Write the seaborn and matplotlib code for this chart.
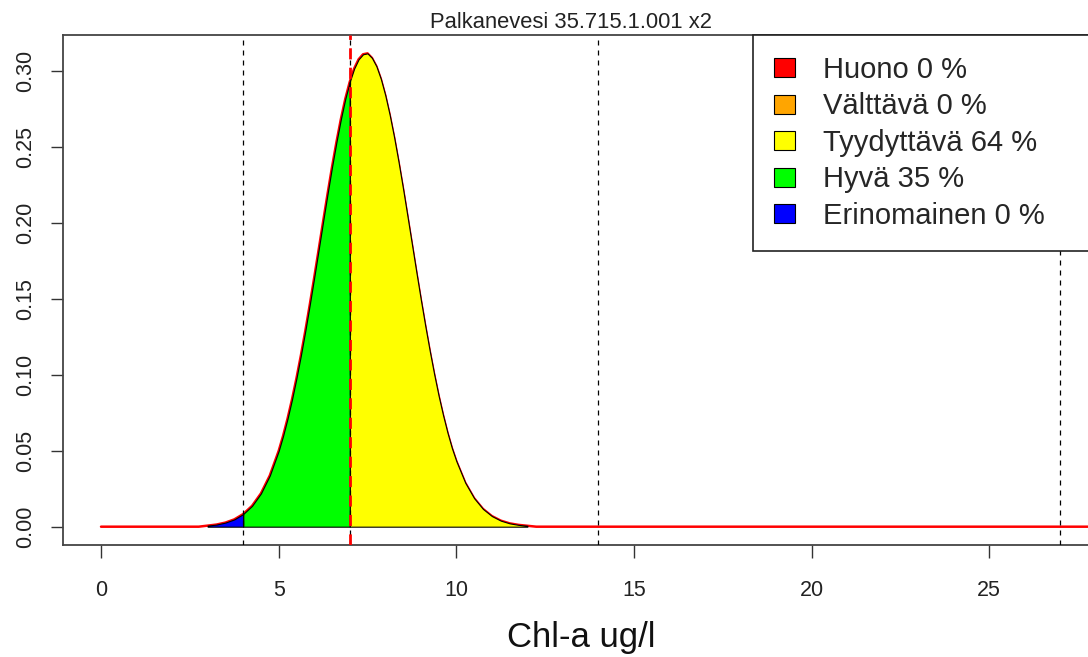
import numpy as np
import pandas as pd
import matplotlib
matplotlib.use("Agg")
import matplotlib.pyplot as plt
import seaborn as sns
from matplotlib.patches import Patch

# ---- data ----
chl_x = [0.0, 2.75, 3.0, 3.25, 3.5, 3.75, 4.0, 4.25, 4.5, 4.75, 5.0, 5.125, 5.25,
         5.375, 5.5, 5.625, 5.75, 5.875, 6.0, 6.125, 6.25, 6.375, 6.5, 6.625,
         6.75, 6.875, 7.0, 7.125, 7.25, 7.375, 7.5, 7.625, 7.75, 7.875, 8.0,
         8.125, 8.25, 8.375, 8.5, 8.625, 8.75, 8.875, 9.0, 9.125, 9.25, 9.375,
         9.5, 9.625, 9.75, 9.875, 10.0, 10.25, 10.5, 10.75, 11.0, 11.25, 11.5,
         11.75, 12.0, 12.25, 30.0]
density = [0.0, 0.0, 0.0007, 0.0014, 0.0027, 0.0048, 0.0083, 0.0137, 0.0219, 0.0337,
           0.0499, 0.0599, 0.0712, 0.0838, 0.0977, 0.1128, 0.1290, 0.1462,
           0.1641, 0.1824, 0.2009, 0.2191, 0.2367, 0.2532, 0.2684, 0.2818,
           0.2930, 0.3018, 0.3079, 0.3112, 0.3118, 0.3088, 0.3033, 0.2950,
           0.2842, 0.2712, 0.2564, 0.2401, 0.2227, 0.2045, 0.1861, 0.1677,
           0.1497, 0.1324, 0.1160, 0.1006, 0.0864, 0.0736, 0.0620, 0.0518,
           0.0432, 0.0290, 0.0188, 0.0117, 0.0070, 0.0040, 0.0022, 0.0012,
           0.0006, 0.0, 0.0]

class_names = ["Huono", "Välttävä", "Tyydyttävä", "Hyvä", "Erinomainen"]
class_pct = [0, 0, 64, 35, 0]
class_colors = ["#FF0000", "#FFA500", "#FFFF00", "#00FF00", "#0000FF"]
class_lo = [27, 14, 7, 4, -np.inf]
class_hi = [np.inf, 27, 14, 7, 4]
boundaries = [4, 7, 14, 27]
observed = 7.0
title = "Palkanevesi 35.715.1.001 x2"
xlabel = "Chl-a ug/l"
xticks = [0, 5, 10, 15, 20, 25]
yticks = [0.00, 0.05, 0.10, 0.15, 0.20, 0.25, 0.30]

# ---- style ----
sns.set_theme(style="white")
plt.rcParams["font.family"] = ["Liberation Sans", "DejaVu Sans"]

W, H = 1088, 657
fig = plt.figure(figsize=(W / 100, H / 100), dpi=100)
ax_l, ax_r, ax_t, ax_b = 63, 1110, 35, 545
ax = fig.add_axes([ax_l / W, (H - ax_b) / H, (ax_r - ax_l) / W, (ax_b - ax_t) / H])

x0 = -1.07
ppu = 35.53
ax.set_xlim(x0, x0 + (ax_r - ax_l) / ppu)
ax.set_ylim(-0.01206, 0.3239)

df = pd.DataFrame({"x": chl_x, "y": density})
curve = df[(df.x >= 3.0) & (df.x <= 12.0)]

# red density line across the whole range
sns.lineplot(data=df, x="x", y="y", color="red", lw=1.8, ax=ax, zorder=2)

# class fills with black outlines
for name, col, lo, hi in zip(class_names, class_colors, class_lo, class_hi):
    seg = curve[(curve.x >= lo) & (curve.x <= hi)]
    if len(seg) < 2:
        continue
    ax.fill_between(seg.x, 0, seg.y, facecolor=col, edgecolor="black",
                    lw=0.8, zorder=3)

# boundary lines
for b in boundaries:
    ax.axvline(b, color="black", lw=0.9, ls=(0, (4, 4)), zorder=4)
ax.axvline(observed, color="red", lw=2.0, ls=(0, (4, 3)), zorder=5)

# axes styling
ax.set_xticks(xticks)
ax.set_xticklabels([str(t) for t in xticks])
ax.set_yticks(yticks)
ax.set_yticklabels([f"{t:.2f}" for t in yticks])
ax.tick_params(axis="both", direction="out", length=9, width=1.0,
               color="#333333", labelsize=15.5, labelcolor="#222222",
               bottom=True, left=True)
ax.tick_params(axis="x", pad=16)
ax.tick_params(axis="y", pad=10)
for lab in ax.get_yticklabels():
    lab.set_rotation(90)
    lab.set_va("center")
for s in ax.spines.values():
    s.set_color("#444444")
    s.set_linewidth(1.3)
ax.set_ylabel("")

ax.set_title(title, fontsize=15.8, x=(571 - ax_l) / (ax_r - ax_l), pad=5,
             color="#222222")
ax.set_xlabel(xlabel, fontsize=25, color="#111111")
ax.xaxis.set_label_coords((581 - ax_l) / (ax_r - ax_l), -(637 - ax_b) / (ax_b - ax_t))
ax.xaxis.label.set_va("center")

# legend
handles = [Patch(facecolor=c, edgecolor="black", lw=0.8) for c in class_colors]
labels = [f"{n} {p} %" for n, p in zip(class_names, class_pct)]
lx = (753 - ax_l) / (ax_r - ax_l)
leg = ax.legend(handles, labels, loc="upper left",
                bbox_to_anchor=(lx, 1.0, 1.5, 0.0), mode="expand",
                borderaxespad=0.0, frameon=True, fancybox=False,
                edgecolor="#222222", framealpha=1.0, fontsize=21,
                handlelength=0.72, handleheight=0.62, handletextpad=0.95,
                labelspacing=0.29, borderpad=0.72)
leg.get_frame().set_linewidth(1.2)

fig.savefig("out.png", dpi=100)
